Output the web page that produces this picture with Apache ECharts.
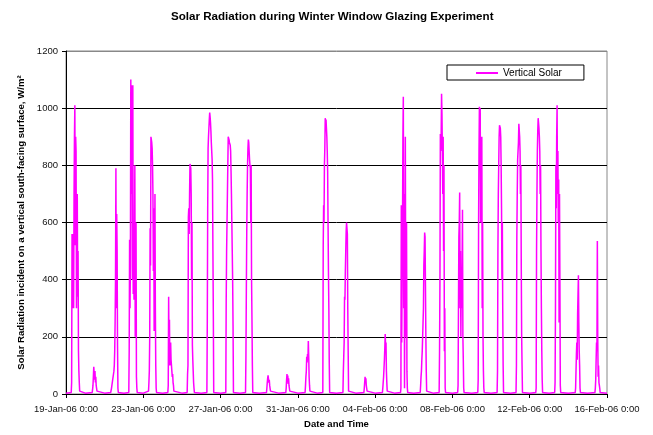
<!DOCTYPE html>
<html>
<head>
<meta charset="utf-8">
<script src="https://cdn.jsdelivr.net/npm/echarts@6/dist/echarts.min.js"></script>
<style>
html,body{margin:0;padding:0;background:#fff;}
#chart{width:653px;height:435px;}
</style>
</head>
<body>
<div id="chart"></div>
<script>
// Tick labels on the time axis (every 4 days, 96 hours)
var xTickLabels = ['19-Jan-06 0:00','23-Jan-06 0:00','27-Jan-06 0:00','31-Jan-06 0:00','04-Feb-06 0:00','08-Feb-06 0:00','12-Feb-06 0:00','16-Feb-06 0:00'];
var yTicks = [0,200,400,600,800,1000,1200];

// First reading hour of daylight data for each day (day 0 = 19-Jan-06)
var dayStartHour = [6.5,8.5,7.5,6,6.5,6.5,6.5,7,6.5,7,9,9,9,7,8,10,9,7.5,8,7.5,6.5,7.5,7.5,7,7.5,7,8.5,9];

// Half-hourly solar readings (W/m2) for each day, starting at dayStartHour
var day00 = [5,40,560,300,560,420,300,700,900,1010,520,900,850,300,500,700,340,500,150,80,40,10,5];
var day01 = [5,15,30,60,95,100,50,80,40,60,30,20,10,5];
var day02 = [5,10,20,30,40,50,60,70,80,100,150,250,400,790,300,630,500,170,20,5];
var day03 = [5,150,540,300,450,1100,700,1080,900,400,1080,350,600,330,450,800,200,350,600,60,20,5];
var day04 = [10,40,80,200,580,450,900,905,880,860,800,700,430,650,220,400,700,300,100,20,5];
var day05 = [5,30,340,150,260,100,150,180,120,100,80,60,70,40,30,10,5];
var day06 = [5,70,100,620,650,560,700,805,800,790,700,400,600,170,120,80,40,20,5];
var day07 = [5,250,640,860,900,930,960,985,970,950,920,880,880,820,750,500,280,5];
var day08 = [5,330,500,600,700,800,900,905,890,880,880,870,850,780,700,600,500,400,240,5];
var day09 = [5,130,360,560,700,800,860,890,880,850,820,800,790,600,800,400,260,100,5];
var day10 = [5,20,40,55,65,60,40,50,30,20,10,5];
var day11 = [5,20,50,70,40,65,35,55,30,20,10,5];
var day12 = [5,30,60,80,130,110,140,120,185,130,60,30,10,5];
var day13 = [5,520,660,600,800,860,965,950,960,930,900,850,780,600,430,300,110,5];
var day14 = [5,80,130,180,340,330,430,500,570,600,605,560,300,150,10,5];
var day15 = [5,20,40,60,45,55,30,20,10,5];
var day16 = [5,20,40,60,90,120,160,210,170,180,80,40,10,5];
var day17 = [5,20,660,180,400,600,900,1040,300,700,20,400,900,300,200,600,80,20,5];
var day18 = [5,30,60,80,120,150,200,250,300,450,500,565,550,380,200,80,10,5];
var day19 = [5,150,400,910,850,900,1050,980,850,700,900,500,800,150,300,20,5];
var day20 = [5,30,300,550,600,705,300,500,200,400,300,450,645,200,120,20,5];
var day21 = [5,50,600,850,1005,980,1000,600,800,725,900,300,600,200,80,20,5];
var day22 = [5,80,500,700,800,900,940,935,930,900,800,650,400,600,300,100,5];
var day23 = [5,100,550,700,820,850,880,945,940,900,850,700,800,450,200,100,5];
var day24 = [5,20,500,700,850,920,965,960,930,900,850,700,800,500,300,150,50,5];
var day25 = [5,40,300,800,650,900,1010,700,850,600,750,250,700,400,30,5];
var day26 = [5,20,80,140,180,120,280,350,415,250,150,100,20,5];
var day27 = [5,20,50,120,180,150,535,200,60,100,40,30,20,5,5];
var nightLevel = 3;

var days = [day00,day01,day02,day03,day04,day05,day06,day07,day08,day09,day10,day11,day12,day13,
            day14,day15,day16,day17,day18,day19,day20,day21,day22,day23,day24,day25,day26,day27];

var seriesData = [];
seriesData.push([0, nightLevel]);
for (var d = 0; d < days.length; d++) {
  var vals = days[d];
  for (var i = 0; i < vals.length; i++) {
    seriesData.push([d * 24 + dayStartHour[d] + i * 0.5, vals[i]]);
  }
  seriesData.push([(d + 1) * 24, nightLevel]);
}

var chart = echarts.init(document.getElementById('chart'), null, {renderer: 'canvas'});
var font = '"Liberation Sans", Arial, sans-serif';
chart.setOption({
  animation: false,
  backgroundColor: '#ffffff',
  title: {
    text: 'Solar Radiation during Winter Window Glazing Experiment',
    left: 166,
    top: 6,
    textStyle: {fontFamily: font, fontSize: 11.6, fontWeight: 'bold', color: '#000'}
  },
  legend: {
    left: 447,
    top: 65,
    padding: [3, 22, 2, 29],
    itemWidth: 22,
    itemHeight: 2,
    itemGap: 5,
    backgroundColor: '#fff',
    borderColor: '#000',
    borderWidth: 1,
    borderRadius: 0,
    textStyle: {fontFamily: font, fontSize: 10, color: '#000'},
    data: [{name: 'Vertical Solar', icon: 'rect'}]
  },
  grid: {
    left: 66, right: 46, top: 51, bottom: 41,
    show: true, borderColor: '#888', borderWidth: 1, backgroundColor: '#fff'
  },
  xAxis: {
    type: 'value',
    min: 0, max: 672, interval: 96,
    name: 'Date and Time',
    nameLocation: 'middle',
    nameGap: 25,
    nameTextStyle: {fontFamily: font, fontSize: 9.5, fontWeight: 'bold', color: '#000', verticalAlign: 'top'},
    axisLine: {show: true, lineStyle: {color: '#000', width: 1}},
    axisTick: {show: true, length: 4, lineStyle: {color: '#000'}},
    splitLine: {show: false},
    axisLabel: {
      margin: 10,
      fontFamily: font, fontSize: 9.5, color: '#111',
      formatter: function (v) { return xTickLabels[Math.round(v / 96)]; }
    }
  },
  yAxis: {
    type: 'value',
    min: yTicks[0], max: yTicks[yTicks.length - 1], interval: 200,
    name: 'Solar Radiation incident on a vertical south-facing surface, W/m²',
    nameLocation: 'middle',
    nameGap: 35,
    nameTextStyle: {fontFamily: font, fontSize: 9.6, fontWeight: 'bold', color: '#000'},
    axisLine: {show: true, lineStyle: {color: '#000', width: 1}},
    axisTick: {show: true, length: 4, lineStyle: {color: '#000'}},
    splitLine: {show: true, lineStyle: {color: ['#000','#000','#000','#000','#000','#000','#888'], width: 1}},
    axisLabel: {
      margin: 8, fontFamily: font, fontSize: 9.5, color: '#111',
      formatter: function (v) { return String(v); }
    }
  },
  series: [{
    name: 'Vertical Solar',
    type: 'line',
    data: seriesData,
    symbol: 'none',
    color: '#ff00ff',
    lineStyle: {color: '#ff00ff', width: 1.5},
    z: 3
  }]
});
</script>
</body>
</html>
